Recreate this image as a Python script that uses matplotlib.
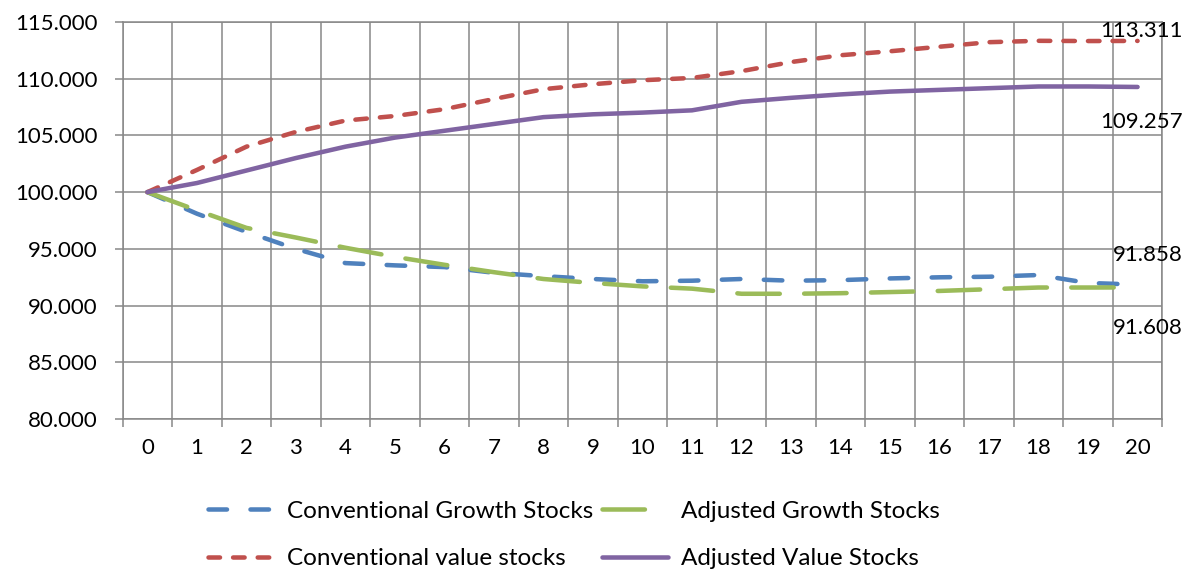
import numpy as np
import matplotlib
matplotlib.use("Agg")
import matplotlib.pyplot as plt

years = list(range(0, 21))
conv_growth = [100, 98.1, 96.5, 95.0, 93.75, 93.55, 93.4, 92.9, 92.6, 92.35, 92.15,
               92.2, 92.35, 92.2, 92.25, 92.4, 92.5, 92.55, 92.7, 92.0, 91.858]
adj_growth = [100, 98.4, 96.85, 96.0, 95.1, 94.3, 93.6, 92.95, 92.35, 92.0, 91.7,
              91.5, 91.05, 91.05, 91.1, 91.2, 91.3, 91.45, 91.6, 91.6, 91.608]
conv_value = [100, 101.95, 104.0, 105.3, 106.3, 106.7, 107.3, 108.2, 109.06, 109.5, 109.85,
              110.05, 110.65, 111.45, 112.05, 112.4, 112.8, 113.2, 113.32, 113.3, 113.311]
adj_value = [100, 100.8, 101.9, 103.0, 104.0, 104.8, 105.4, 106.0, 106.6, 106.85, 107.0,
             107.2, 107.95, 108.3, 108.6, 108.85, 109.0, 109.15, 109.3, 109.3, 109.257]
names = ["Conventional Growth Stocks", "Adjusted Growth Stocks",
         "Conventional value stocks", "Adjusted Value Stocks"]

plt.rcParams['font.family'] = ['Lato', 'DejaVu Sans']
plt.rcParams['font.size'] = 16

fig = plt.figure(figsize=(11.92, 5.72), dpi=100)
ax = fig.add_axes([0.1029, 0.267, 0.8722, 0.695])

lw = 3.25
grid_col = "#888888"
l1, = ax.plot(years, conv_growth, color="#4F81BD", lw=lw, dashes=(4.1, 5.2),
              dash_capstyle="round", label=names[0], zorder=3)
l2, = ax.plot(years, adj_growth, color="#9BBB59", lw=lw, dashes=(9.4, 5.4),
              dash_capstyle="round", label=names[1], zorder=3)
l3, = ax.plot(years, conv_value, color="#C0504D", lw=lw, dashes=(2.55, 2.9),
              dash_capstyle="round", label=names[2], zorder=3)
l4, = ax.plot(years, adj_value, color="#8064A2", lw=lw, solid_capstyle="round",
              label=names[3], zorder=3)

# end labels
ends = [(conv_value[-1], 2.7), (adj_value[-1], -29.7), (conv_growth[-1], 17.2), (adj_growth[-1], -33.3)]
for val, dy in ends:
    ax.annotate("%.3f" % val, xy=(years[-1], val), xytext=(32.4, dy), textcoords="offset points",
                ha="right", va="baseline", fontsize=16, annotation_clip=False)

ax.set_xlim(-0.5, 20.5)
ax.set_ylim(80, 115)
ax.set_xticks(np.arange(-0.5, 21, 1))
ax.set_xticklabels([])
ax.set_xticks(years, [str(y) for y in years], minor=True)
ax.set_yticks(np.arange(80, 116, 5))
ax.set_yticklabels(["%.3f" % v for v in np.arange(80, 116, 5)])
ax.grid(True, which="major", color=grid_col, lw=1.1)
ax.set_axisbelow(True)
ax.tick_params(axis="x", which="major", length=5.8, width=1.1, color=grid_col, direction="out")
ax.tick_params(axis="x", which="minor", length=0, pad=13.5, labelsize=16)
ax.tick_params(axis="y", length=5.8, width=1.1, color=grid_col, pad=12.2, labelsize=16)
for s in ax.spines.values():
    s.set_color(grid_col)
    s.set_linewidth(1.1)

fig.legend(handles=[l1, l3, l2, l4], ncol=2, loc="center left",
           bbox_to_anchor=(208 / 1192, 1 - 535 / 572), frameon=False,
           borderpad=0, borderaxespad=0, handlelength=2.72, handletextpad=0.51,
           columnspacing=0.39, labelspacing=1.08, fontsize=17.5)

fig.savefig("out.png", dpi=100)
